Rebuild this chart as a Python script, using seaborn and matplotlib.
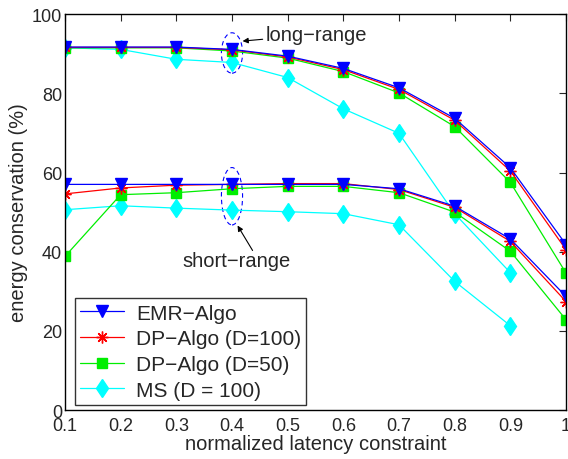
import numpy as np
import pandas as pd
import matplotlib
matplotlib.use("Agg")
import matplotlib.pyplot as plt
from matplotlib.patches import Ellipse
import seaborn as sns

# latency constraint values
latency = [0.1, 0.2, 0.3, 0.4, 0.5, 0.6, 0.7, 0.8, 0.9, 1.0]
latency_ms = [0.1, 0.2, 0.3, 0.4, 0.5, 0.6, 0.7, 0.8, 0.9]

# long-range curves
emr_long = [91.7, 91.7, 91.7, 91.1, 89.4, 86.3, 81.4, 73.7, 61.2, 41.8]
dp100_long = [91.6, 91.6, 91.6, 91.0, 89.2, 86.0, 81.0, 73.2, 60.4, 40.5]
dp50_long = [91.5, 91.5, 91.5, 90.7, 88.9, 85.5, 80.1, 71.6, 57.5, 34.6]
ms_long = [91.5, 91.1, 88.6, 87.8, 84.0, 76.1, 69.9, 49.6, 34.7]

# short-range curves
emr_short = [57.0, 57.0, 57.0, 57.0, 57.0, 57.0, 55.9, 51.5, 43.2, 28.7]
dp100_short = [54.6, 56.1, 56.8, 57.0, 57.2, 57.2, 55.7, 51.2, 42.6, 27.4]
dp50_short = [38.8, 54.4, 54.9, 55.9, 56.5, 56.5, 54.9, 50.0, 40.1, 22.8]
ms_short = [50.6, 51.6, 51.0, 50.5, 50.1, 49.6, 46.8, 32.5, 21.3]

labels = ["EMR\u2212Algo", "DP\u2212Algo (D=100)", "DP\u2212Algo (D=50)", "MS (D = 100)"]
colors = ["#0000ff", "#ff0000", "#00ee00", "#00ffff"]
markers = ["v", (8, 2, 0), "s", "d"]
msizes = [8, 8.5, 6.5, 9.5]

sns.set_style("white")
plt.rcParams["font.family"] = ["Liberation Sans", "DejaVu Sans"]
plt.rcParams["font.size"] = 12

fig = plt.figure(figsize=(5.68, 4.6), dpi=100)
ax = fig.add_axes([0.1144, 0.1065, 0.8821, 0.8605])

series = [
    (latency, emr_long, latency, emr_short),
    (latency, dp100_long, latency, dp100_short),
    (latency, dp50_long, latency, dp50_short),
    (latency_ms, ms_long, latency_ms, ms_short),
]

# draw in reverse so EMR ends on top
for i in [3, 2, 1, 0]:
    xl, yl, xs, ys = series[i]
    kw = dict(color=colors[i], marker=markers[i], markersize=msizes[i],
              linewidth=0.9, markeredgecolor=colors[i], markeredgewidth=1.0, ax=ax)
    sns.lineplot(x=xl, y=yl, label=labels[i], **kw)
    sns.lineplot(x=xs, y=ys, **kw)

# legend in original order
handles, labs = ax.get_legend_handles_labels()
order = [labs.index(l) for l in labels]
leg = ax.legend([handles[k] for k in order], labels, loc="lower left",
                bbox_to_anchor=(0.015, 0.008), fontsize=15, frameon=True,
                fancybox=False, edgecolor="black", handlelength=2.1,
                borderpad=0.25, labelspacing=0.32, handletextpad=0.6,
                borderaxespad=0.1)
leg.get_frame().set_linewidth(1.0)

# annotations
ax.add_patch(Ellipse((0.4, 90.2), 0.038, 10.2, fill=False, edgecolor="#0000ff",
                     linestyle=(0, (4, 3)), linewidth=0.8))
ax.add_patch(Ellipse((0.4, 54.0), 0.038, 14.5, fill=False, edgecolor="#0000ff",
                     linestyle=(0, (4, 3)), linewidth=0.8))
ax.annotate("long\u2212range", xy=(0.419, 93.2), xytext=(0.461, 94.9),
            fontsize=14.5, va="center", ha="left",
            arrowprops=dict(arrowstyle="-|>", color="black", lw=0.8,
                            shrinkA=0, shrinkB=0, mutation_scale=8))
ax.text(0.408, 37.8, "short\u2212range", fontsize=14.5, va="center", ha="center")
ax.annotate("", xy=(0.41, 46.6), xytext=(0.437, 40.3),
            arrowprops=dict(arrowstyle="-|>", color="black", lw=0.8,
                            shrinkA=0, shrinkB=0, mutation_scale=8))

ax.set_xlim(0.1, 1.0)
ax.set_ylim(0, 100)
ax.set_xticks(latency)
ax.set_xticklabels(["0.1", "0.2", "0.3", "0.4", "0.5", "0.6", "0.7", "0.8", "0.9", "1"])
ax.set_yticks([0, 20, 40, 60, 80, 100])
ax.tick_params(direction="in", length=5, width=0.8, top=True, right=True,
               labelsize=13, pad=2)
ax.tick_params(axis="x", pad=5)
for s in ax.spines.values():
    s.set_visible(True)
    s.set_color("black")
    s.set_linewidth(1.0)
ax.set_xlabel("normalized latency constraint", fontsize=14.5, labelpad=0)
ax.set_ylabel("energy conservation (%)", fontsize=14.5, labelpad=3)

fig.savefig("out.png", dpi=100)
